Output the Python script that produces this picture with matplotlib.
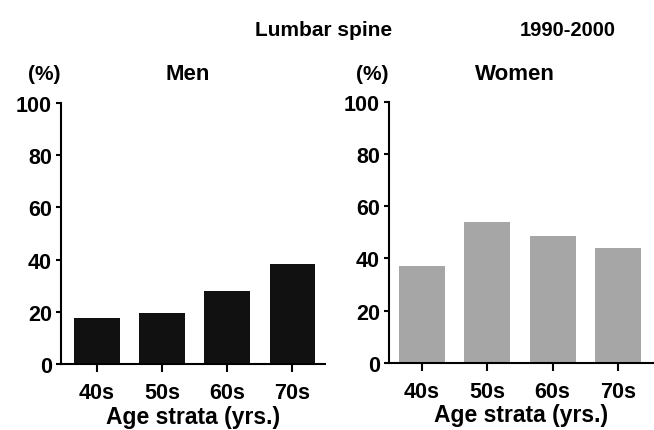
import matplotlib.pyplot as plt

plt.rcParams['font.family'] = ['Liberation Sans', 'DejaVu Sans']
plt.rcParams['font.weight'] = 'bold'

ages = ["40s", "50s", "60s", "70s"]
men = [17.5, 19.5, 28, 38.5]
women = [37.3, 53.8, 48.8, 44.2]
yticks = [0, 20, 40, 60, 80, 100]

fig = plt.figure(figsize=(6.54, 4.31), dpi=100)
ax1 = fig.add_axes([0.093, 0.153, 0.404, 0.606])
ax2 = fig.add_axes([0.595, 0.156, 0.403, 0.605])


def style(ax, vals, color, xlim):
    ax.bar(range(len(ages)), vals, width=0.7, color=color, edgecolor='none')
    ax.set_xlim(*xlim)
    ax.set_ylim(0, 100)
    ax.set_yticks(yticks)
    ax.set_xticks(range(len(ages)))
    ax.set_xticklabels(ages)
    for s in ['top', 'right']:
        ax.spines[s].set_visible(False)
    for s in ['left', 'bottom']:
        ax.spines[s].set_linewidth(1.5)
    ax.tick_params(axis='x', length=6, width=1.5, pad=7, labelsize=15.5)
    ax.tick_params(axis='y', length=3.5, width=1.5, pad=3, labelsize=15.5)
    for t in ax.get_xticklabels() + ax.get_yticklabels():
        t.set_fontweight('bold')
    ax.set_xlabel("Age strata (yrs.)", fontsize=16.5, fontweight='bold', labelpad=1)


style(ax1, men, '#111111', (-0.55, 3.5))
style(ax2, women, '#a6a6a6', (-0.5, 3.53))

fs = 15
fig.text(0.494, 0.93, "Lumbar spine", ha='center', va='center', fontsize=fs, fontweight='bold')
fig.text(0.868, 0.93, "1990-2000", ha='center', va='center', fontsize=14.5, fontweight='bold')
fig.text(0.068, 0.826, "(%)", ha='center', va='center', fontsize=fs, fontweight='bold')
fig.text(0.287, 0.826, "Men", ha='center', va='center', fontsize=fs + 1, fontweight='bold')
fig.text(0.569, 0.826, "(%)", ha='center', va='center', fontsize=fs, fontweight='bold')
fig.text(0.787, 0.826, "Women", ha='center', va='center', fontsize=fs + 1, fontweight='bold')

fig.savefig("out.png", dpi=100)
